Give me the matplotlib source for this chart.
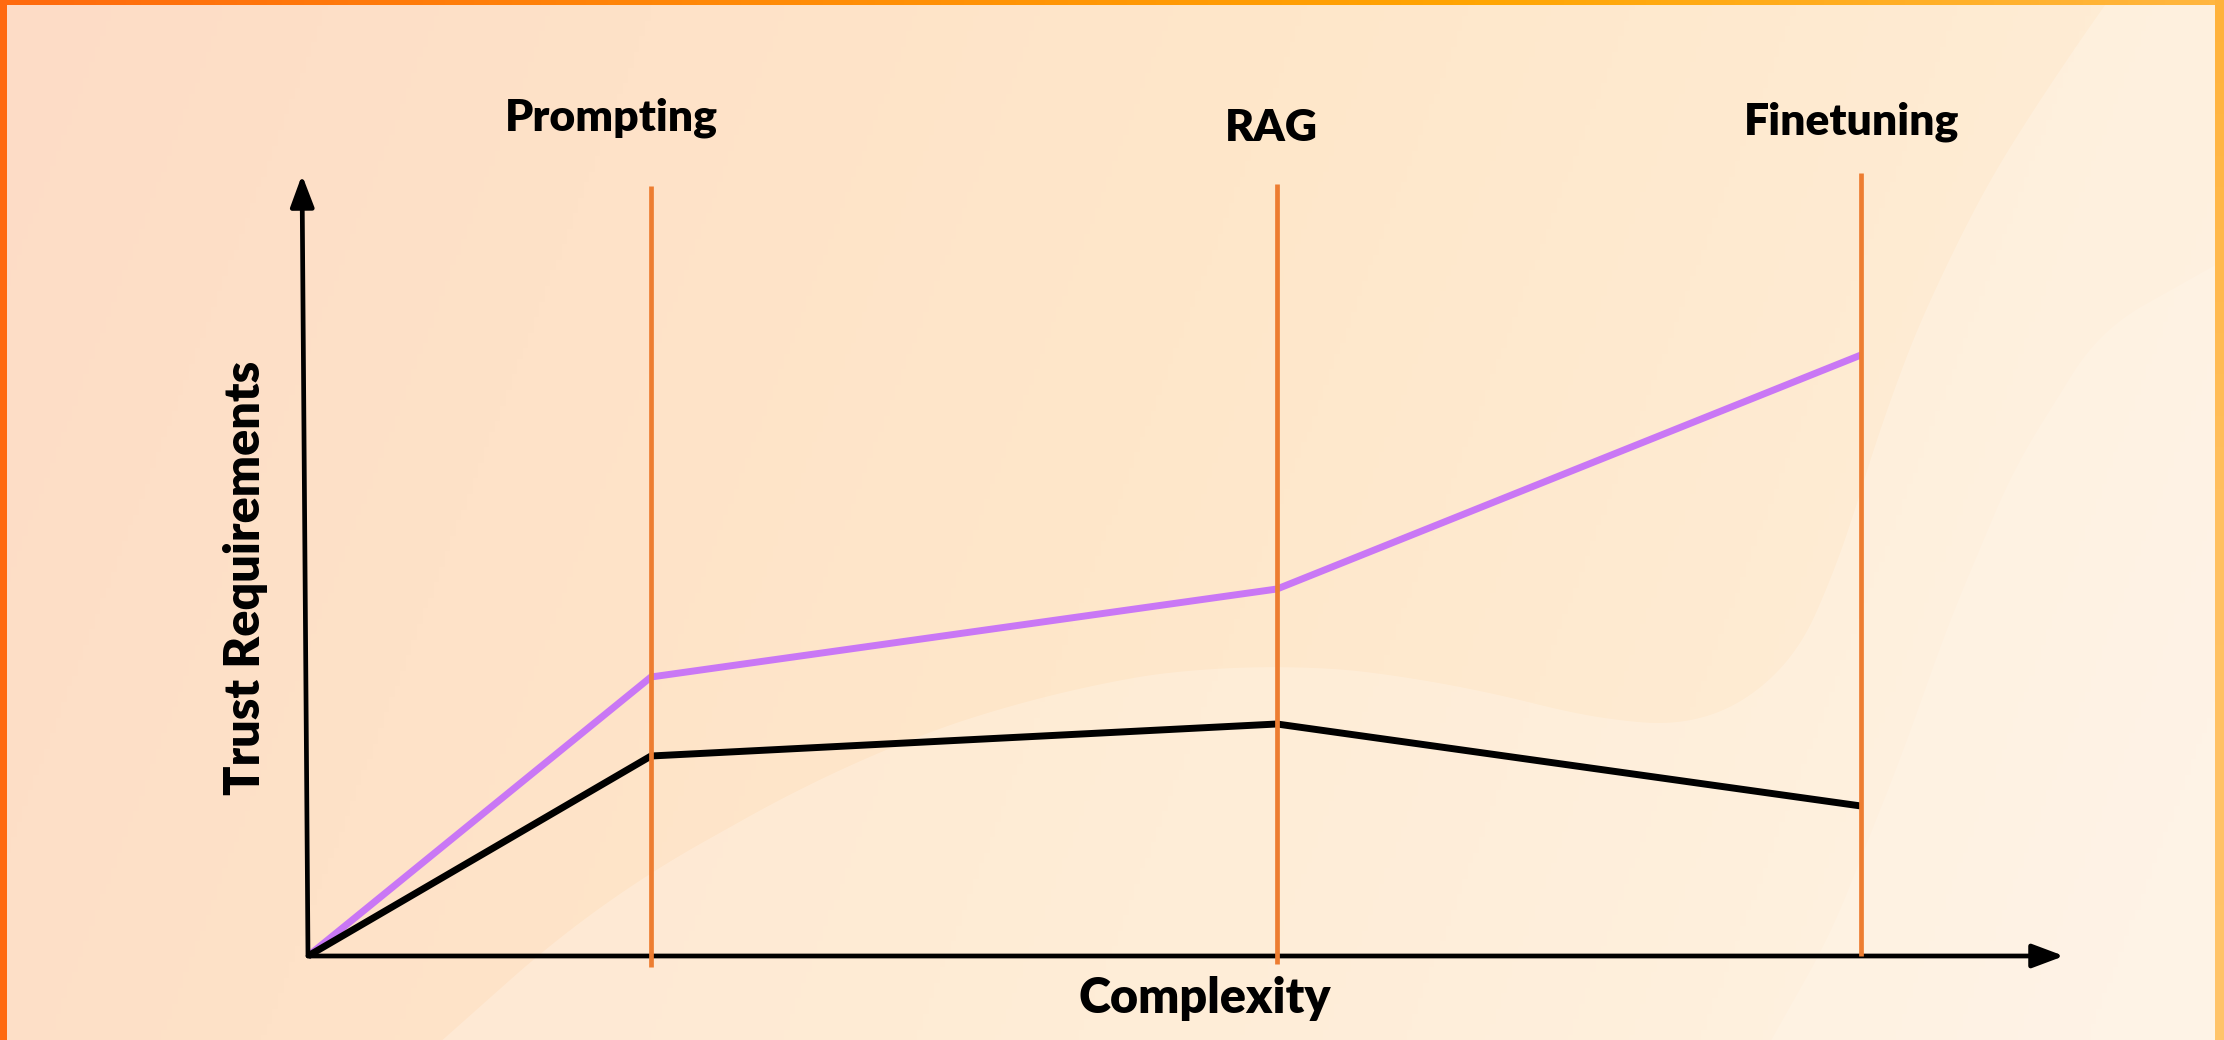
import numpy as np
import matplotlib
matplotlib.use('Agg')
import matplotlib.pyplot as plt
from matplotlib.colors import LinearSegmentedColormap

#----------------------------------------------------------------------
# Chart data (arbitrary units, origin of the axes at 0,0)
#----------------------------------------------------------------------
stages = ['Prompting', 'RAG', 'Finetuning']
stage_x = [3.43, 9.69, 15.53]
curve_x = [0.0, 3.43, 9.69, 15.53]
trust_upper = [0.0, 2.79, 3.67, 6.01]   # purple line
trust_lower = [0.0, 2.00, 2.32, 1.50]   # black line
x_label = 'Complexity'
y_label = 'Trust Requirements'

#----------------------------------------------------------------------
# Layout / style
#----------------------------------------------------------------------
W, H = 2224, 1040
dpi = 100
x0_px, y0_px, px_per_unit = 308, 956, 100.0

stage_top = [7.70, 7.72, 7.83]
stage_bottom = [-0.11, -0.08, 0.0]
label_x = [3.03, 9.63, 15.44]
label_y = [8.26, 8.15, 8.21]

purple = '#C977F5'
orange = '#ED7D31'
font = 'Lato'


def smooth_curve(px, py, n=400, k=41):
    # polyline through the points, then a moving average to round it off
    s = np.concatenate([[0], np.cumsum(np.hypot(np.diff(px), np.diff(py)))])
    ss = np.linspace(0, s[-1], n)
    xs, ys = np.interp(ss, s, px), np.interp(ss, s, py)
    kern = np.ones(k) / k
    xs = np.convolve(np.pad(xs, k // 2, mode='edge'), kern, mode='valid')
    ys = np.convolve(np.pad(ys, k // 2, mode='edge'), kern, mode='valid')
    return xs, ys


fig = plt.figure(figsize=(W / dpi, H / dpi), dpi=dpi)

#----------------------------------------------------------------------
# Background: peach gradient, soft light waves and an orange frame
#----------------------------------------------------------------------
bg = fig.add_axes([0, 0, 1, 1])
bg.set_xlim(0, W)
bg.set_ylim(H, 0)
bg.axis('off')

gx, gy = np.meshgrid(np.linspace(0, 1, 400), np.linspace(0, 1, 200))
t = np.clip(0.85 * gx + 0.15 * gy, 0, 1)
bg_cmap = LinearSegmentedColormap.from_list(
    'peach', ['#FDDCC6', '#FEE2C8', '#FEE7CA', '#FEEBD2', '#FEF0DC'])
bg.imshow(t, cmap=bg_cmap, extent=[0, W, H, 0], aspect='auto', zorder=0)

# lighter wave from lower left sweeping up to the top right
wx = [420, 600, 850, 1050, 1250, 1450, 1650, 1760, 1830, 1880, 1950, 2030, 2110, 2150]
wy = [1060, 900, 760, 690, 660, 680, 735, 720, 600, 420, 250, 110, 0, -60]
cx, cy = smooth_curve(np.array(wx, float), np.array(wy, float))
bg.fill(np.concatenate([cx, [W + 50, W + 50]]), np.concatenate([cy, [-60, H + 60]]),
        color='white', alpha=0.22, lw=0, zorder=1)

# second band on the right
wx2 = [2260, 2100, 2014, 1950, 1900, 1830, 1760]
wy2 = [240, 330, 468, 620, 760, 936, 1060]
cx2, cy2 = smooth_curve(np.array(wx2, float), np.array(wy2, float))
bg.fill(np.concatenate([cx2, [W + 50]]), np.concatenate([cy2, [H + 60]]),
        color='white', alpha=0.14, lw=0, zorder=1)

# frame
frame_cmap = LinearSegmentedColormap.from_list('frame', ['#FF6A0E', '#FF8A08', '#FFA502', '#FFB640'])
bg.imshow(np.linspace(0, 1, 300)[None, :], cmap=frame_cmap,
          extent=[0, W, 5, 0], aspect='auto', zorder=5)
bg.fill_between([0, 7], 0, H, color='#FF6A10', lw=0, zorder=5)
side_cmap = LinearSegmentedColormap.from_list('side', ['#FFB23A', '#FFC060', '#FFC46A'])
bg.imshow(np.linspace(0, 1, 100)[:, None], cmap=side_cmap,
          extent=[2215, W, H, 0], aspect='auto', zorder=5)

#----------------------------------------------------------------------
# Chart axes in data units
#----------------------------------------------------------------------
ax = fig.add_axes([0, 0, 1, 1])
ax.patch.set_alpha(0)
ax.set_xlim(-x0_px / px_per_unit, (W - x0_px) / px_per_unit)
ax.set_ylim((y0_px - H) / px_per_unit, y0_px / px_per_unit)
ax.axis('off')

# axis arrows
arrow_kw = dict(arrowstyle='-|>,head_length=0.8,head_width=0.3', lw=3.4,
                color='black', shrinkA=0, shrinkB=0, mutation_scale=24)
ax.annotate('', xy=(17.56, 0), xytext=(0, 0), arrowprops=arrow_kw, zorder=4)
ax.annotate('', xy=(-0.06, 7.81), xytext=(0, 0), arrowprops=arrow_kw, zorder=4)

# stage lines
for xs, top, bot in zip(stage_x, stage_top, stage_bottom):
    ax.plot([xs, xs], [bot, top], color=orange, lw=3.4, solid_capstyle='butt', zorder=6)

ax.plot(curve_x, trust_upper, color=purple, lw=5.0, solid_joinstyle='miter',
        solid_capstyle='butt', zorder=3)
ax.plot(curve_x, trust_lower, color='black', lw=5.0, solid_joinstyle='miter',
        solid_capstyle='butt', zorder=5)

for name, lx, ly in zip(stages, label_x, label_y):
    ax.text(lx, ly, name, ha='center', va='baseline', fontsize=32,
            fontweight='heavy', family=font)

ax.text(8.97, -0.57, x_label, ha='center', va='baseline', fontsize=35,
        fontweight='heavy', family=font)
ax.text(-0.63, 3.78, y_label, ha='center', va='center', rotation=90,
        fontsize=35, fontweight='heavy', family=font)

fig.savefig('out.png', dpi=dpi)
